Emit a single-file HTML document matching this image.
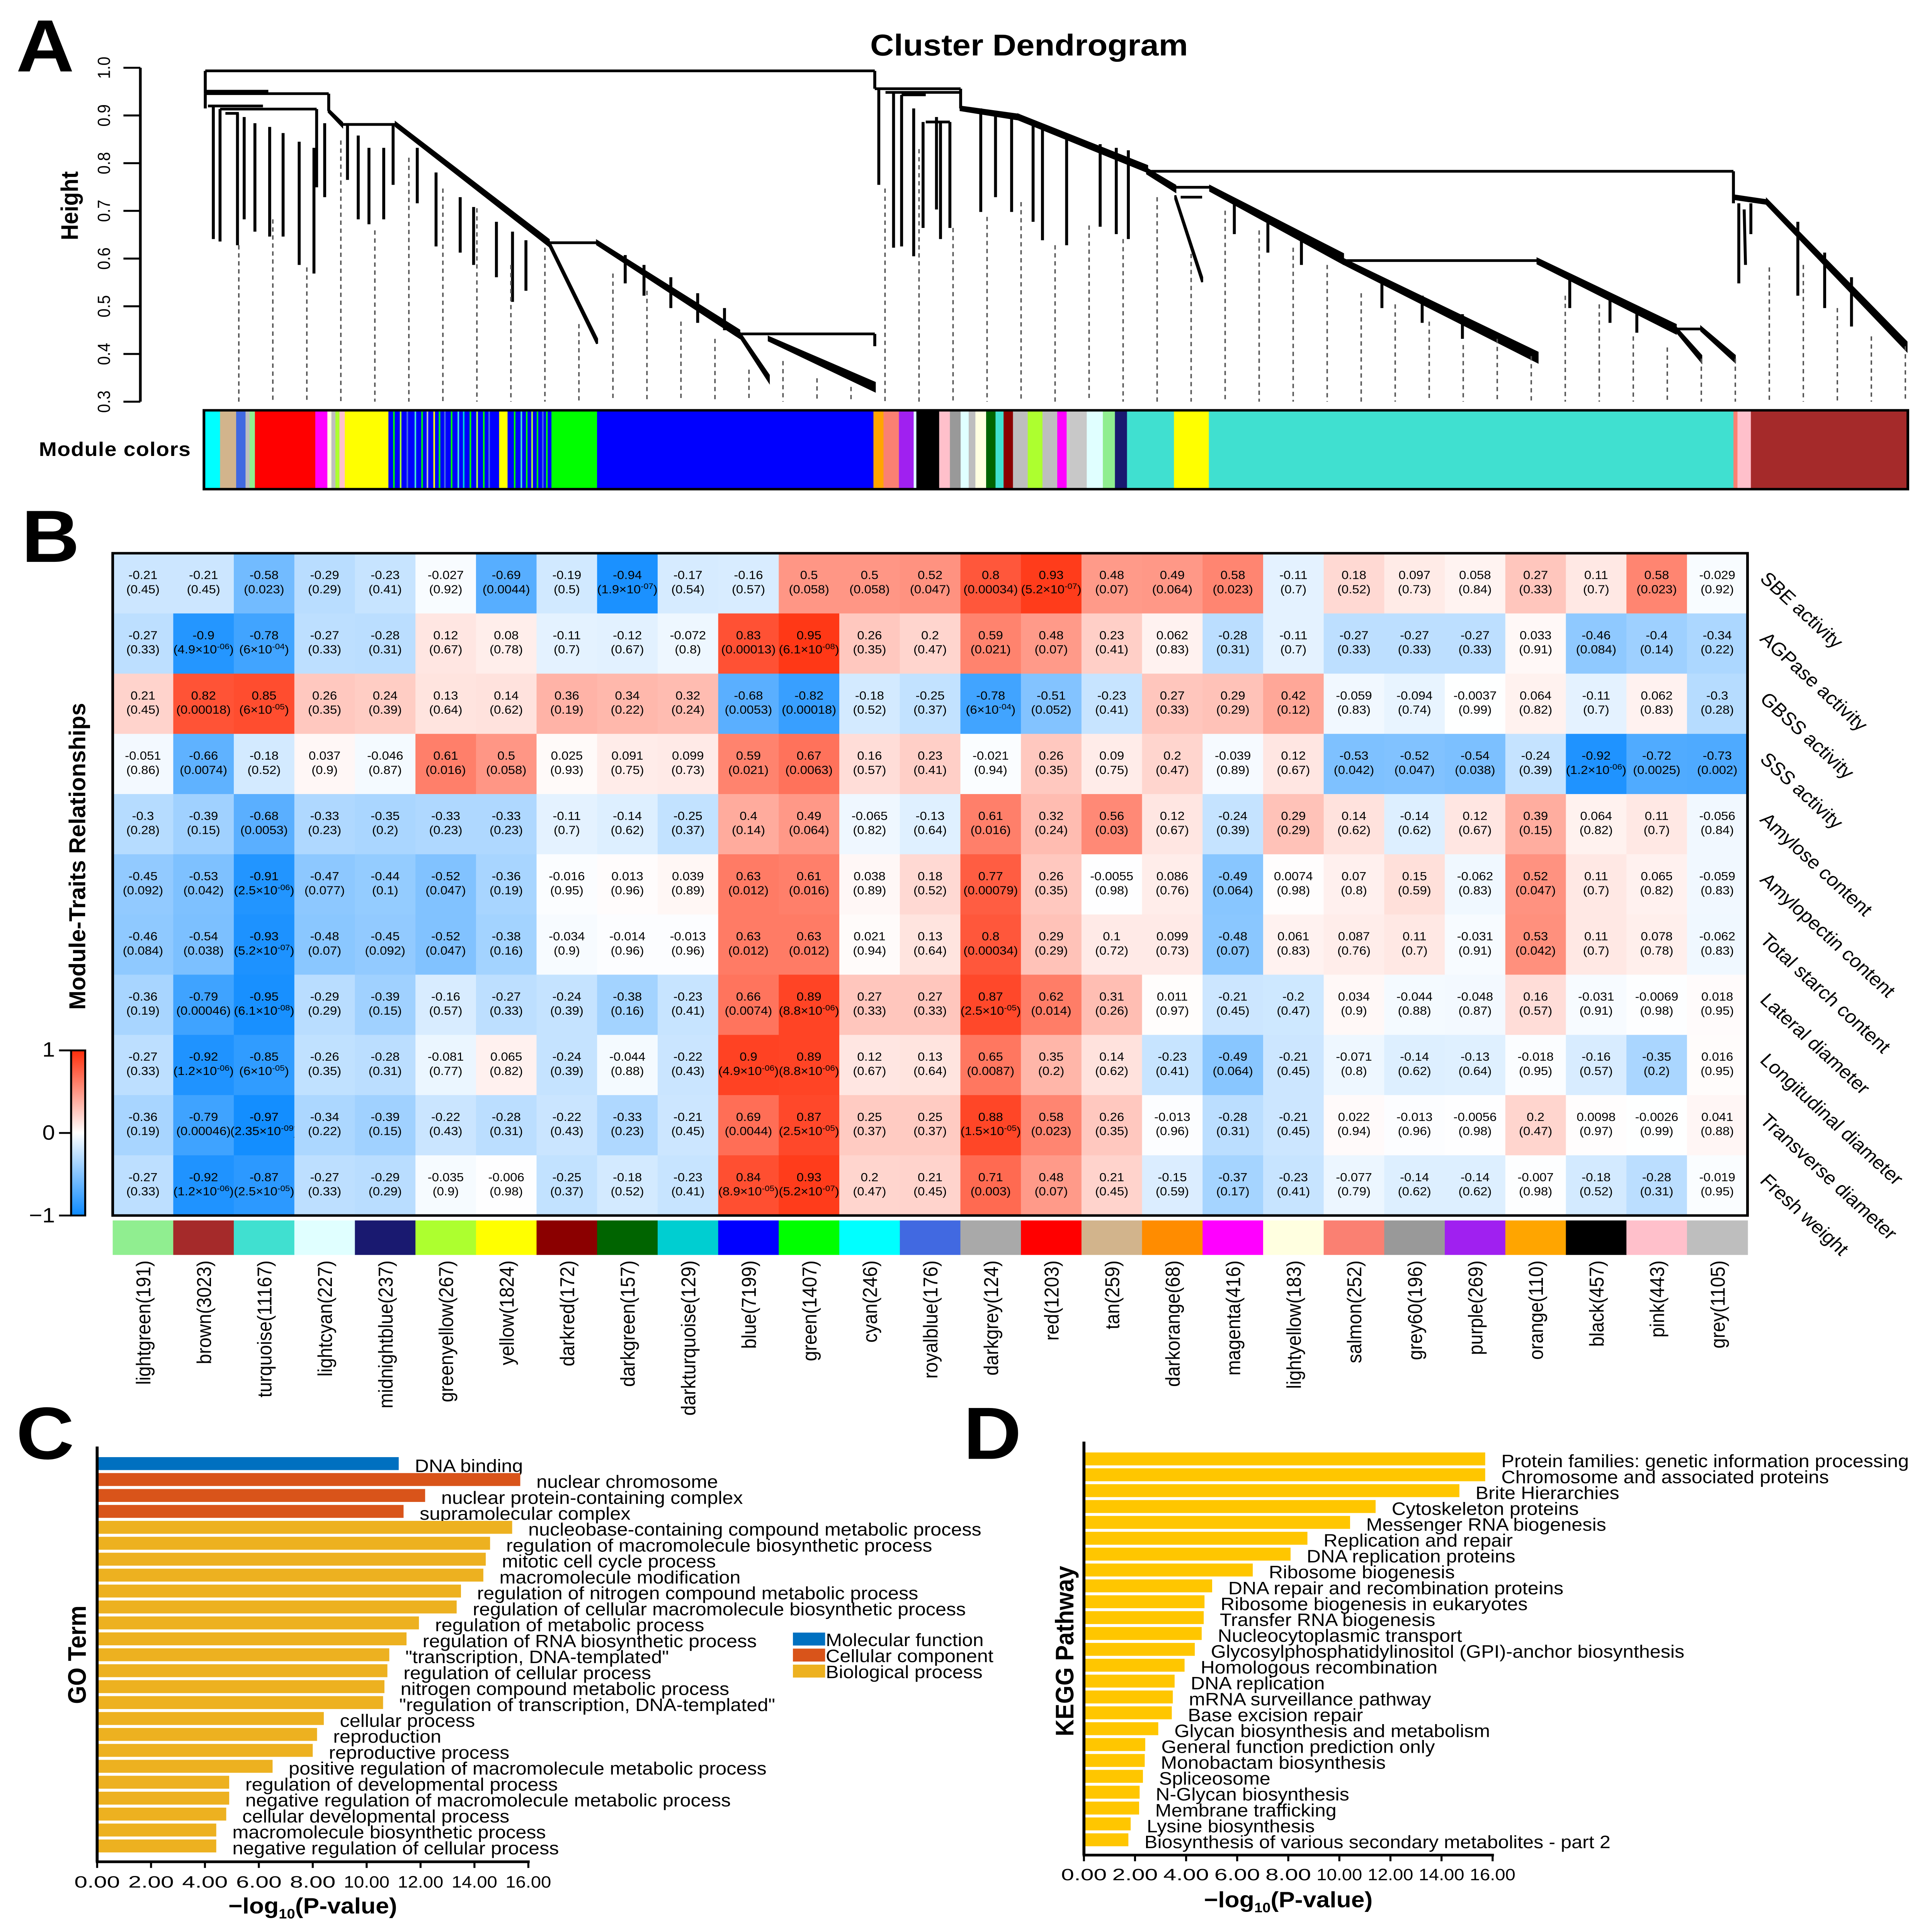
<!DOCTYPE html>
<html><head><meta charset="utf-8"><title>WGCNA figure</title>
<style>
html,body{margin:0;padding:0;background:#fff;width:100%;height:100%;overflow:hidden;}
svg{position:absolute;left:0;top:0;width:100vw;height:100vh;display:block;}
text{font-family:"Liberation Sans",Arial,sans-serif;}
</style></head>
<body>
<svg id="fig" xmlns="http://www.w3.org/2000/svg" viewBox="0 0 1440 1568" preserveAspectRatio="none">
<rect x="0" y="0" width="1440" height="1568" fill="#fff"/>
<g id="panelA">
 <text x="12" y="58" font-size="60" font-weight="bold">A</text>
 <text x="767" y="45" font-size="24.5" font-weight="bold" text-anchor="middle">Cluster Dendrogram</text>
 <text transform="translate(58,167) rotate(-90)" font-size="18" font-weight="bold" text-anchor="middle">Height</text>
 <text x="29" y="370" font-size="16" font-weight="bold" textLength="113" lengthAdjust="spacing">Module colors</text>
 <g id="dendro"></g>
 <g id="yaxisA"></g>
 <g id="colorbarA"></g>
</g>
<g id="panelB">
 <text x="16" y="456" font-size="60" font-weight="bold">B</text>
 <text transform="translate(63.5,695) rotate(-90)" font-size="17" font-weight="bold" text-anchor="middle" textLength="249" lengthAdjust="spacingAndGlyphs">Module-Traits Relationships</text>
 <g id="heat"></g>
 <g id="legendB"></g>
</g>
<g id="panelC">
 <text x="12" y="1184" font-size="60" font-weight="bold">C</text>
 <text transform="translate(64,1343) rotate(-90)" font-size="19" font-weight="bold" text-anchor="middle">GO Term</text>
</g>
<g id="panelD">
 <text x="718" y="1184" font-size="60" font-weight="bold">D</text>
 <text transform="translate(800,1340) rotate(-90)" font-size="19" font-weight="bold" text-anchor="middle">KEGG Pathway</text>
</g>
</svg>
<script>
// ---------- Heatmap data ----------
const modules=["lightgreen","brown","turquoise","lightcyan","midnightblue","greenyellow","yellow","darkred","darkgreen","darkturquoise","blue","green","cyan","royalblue","darkgrey","red","tan","darkorange","magenta","lightyellow","salmon","grey60","purple","orange","black","pink","grey"];
const moduleSizes=[191,3023,11167,227,237,267,1824,172,157,129,7199,1407,246,176,124,1203,259,68,416,183,252,196,269,110,457,443,1105];
const moduleFill=["#90EE90","#A52A2A","#40E0D0","#E0FFFF","#191970","#ADFF2F","#FFFF00","#8B0000","#006400","#00CED1","#0000FF","#00FF00","#00FFFF","#4169E1","#A9A9A9","#FF0000","#D2B48C","#FF8C00","#FF00FF","#FFFFE0","#FA8072","#999999","#A020F0","#FFA500","#000000","#FFC0CB","#BEBEBE"];
const traits=["SBE activity","AGPase activity","GBSS activity","SSS activity","Amylose content","Amylopectin content","Total starch content","Lateral diameter","Longitudinal diameter","Transverse diameter","Fresh weight"];
const corrSBE=[-0.21,-0.21,-0.58,-0.29,-0.23,-0.027,-0.69,-0.19,-0.94,-0.17,-0.16,0.5,0.5,0.52,0.8,0.93,0.48,0.49,0.58,-0.11,0.18,0.097,0.058,0.27,0.11,0.58,-0.029];
const pSBE=["0.45","0.45","0.023","0.29","0.41","0.92","0.0044","0.5","1.9e-07","0.54","0.57","0.058","0.058","0.047","0.00034","5.2e-07","0.07","0.064","0.023","0.7","0.52","0.73","0.84","0.33","0.7","0.023","0.92"];
const corrAGP=[-0.27,-0.9,-0.78,-0.27,-0.28,0.12,0.08,-0.11,-0.12,-0.072,0.83,0.95,0.26,0.2,0.59,0.48,0.23,0.062,-0.28,-0.11,-0.27,-0.27,-0.27,0.033,-0.46,-0.4,-0.34];
const pAGP=["0.33","4.9e-06","6e-04","0.33","0.31","0.67","0.78","0.7","0.67","0.8","0.00013","6.1e-08","0.35","0.47","0.021","0.07","0.41","0.83","0.31","0.7","0.33","0.33","0.33","0.91","0.084","0.14","0.22"];
const corrGBSS=[0.21,0.82,0.85,0.26,0.24,0.13,0.14,0.36,0.34,0.32,-0.68,-0.82,-0.18,-0.25,-0.78,-0.51,-0.23,0.27,0.29,0.42,-0.059,-0.094,-0.0037,0.064,-0.11,0.062,-0.3];
const pGBSS=["0.45","0.00018","6e-05","0.35","0.39","0.64","0.62","0.19","0.22","0.24","0.0053","0.00018","0.52","0.37","6e-04","0.052","0.41","0.33","0.29","0.12","0.83","0.74","0.99","0.82","0.7","0.83","0.28"];
const corrSSS=[-0.051,-0.66,-0.18,0.037,-0.046,0.61,0.5,0.025,0.091,0.099,0.59,0.67,0.16,0.23,-0.021,0.26,0.09,0.2,-0.039,0.12,-0.53,-0.52,-0.54,-0.24,-0.92,-0.72,-0.73];
const pSSS=["0.86","0.0074","0.52","0.9","0.87","0.016","0.058","0.93","0.75","0.73","0.021","0.0063","0.57","0.41","0.94","0.35","0.75","0.47","0.89","0.67","0.042","0.047","0.038","0.39","1.2e-06","0.0025","0.002"];
const corrAmy=[-0.3,-0.39,-0.68,-0.33,-0.35,-0.33,-0.33,-0.11,-0.14,-0.25,0.4,0.49,-0.065,-0.13,0.61,0.32,0.56,0.12,-0.24,0.29,0.14,-0.14,0.12,0.39,0.064,0.11,-0.056];
const pAmy=["0.28","0.15","0.0053","0.23","0.2","0.23","0.23","0.7","0.62","0.37","0.14","0.064","0.82","0.64","0.016","0.24","0.03","0.67","0.39","0.29","0.62","0.62","0.67","0.15","0.82","0.7","0.84"];
const corrAmp=[-0.45,-0.53,-0.91,-0.47,-0.44,-0.52,-0.36,-0.016,0.013,0.039,0.63,0.61,0.038,0.18,0.77,0.26,-0.0055,0.086,-0.49,0.0074,0.07,0.15,-0.062,0.52,0.11,0.065,-0.059];
const pAmp=["0.092","0.042","2.5e-06","0.077","0.1","0.047","0.19","0.95","0.96","0.89","0.012","0.016","0.89","0.52","0.00079","0.35","0.98","0.76","0.064","0.98","0.8","0.59","0.83","0.047","0.7","0.82","0.83"];
const corrTS=[-0.46,-0.54,-0.93,-0.48,-0.45,-0.52,-0.38,-0.034,-0.014,-0.013,0.63,0.63,0.021,0.13,0.8,0.29,0.1,0.099,-0.48,0.061,0.087,0.11,-0.031,0.53,0.11,0.078,-0.062];
const pTS=["0.084","0.038","5.2e-07","0.07","0.092","0.047","0.16","0.9","0.96","0.96","0.012","0.012","0.94","0.64","0.00034","0.29","0.72","0.73","0.07","0.83","0.76","0.7","0.91","0.042","0.7","0.78","0.83"];
const corrLat=[-0.36,-0.79,-0.95,-0.29,-0.39,-0.16,-0.27,-0.24,-0.38,-0.23,0.66,0.89,0.27,0.27,0.87,0.62,0.31,0.011,-0.21,-0.2,0.034,-0.044,-0.048,0.16,-0.031,-0.0069,0.018];
const pLat=["0.19","0.00046","6.1e-08","0.29","0.15","0.57","0.33","0.39","0.16","0.41","0.0074","8.8e-06","0.33","0.33","2.5e-05","0.014","0.26","0.97","0.45","0.47","0.9","0.88","0.87","0.57","0.91","0.98","0.95"];
const corrLon=[-0.27,-0.92,-0.85,-0.26,-0.28,-0.081,0.065,-0.24,-0.044,-0.22,0.9,0.89,0.12,0.13,0.65,0.35,0.14,-0.23,-0.49,-0.21,-0.071,-0.14,-0.13,-0.018,-0.16,-0.35,0.016];
const pLon=["0.33","1.2e-06","6e-05","0.35","0.31","0.77","0.82","0.39","0.88","0.43","4.9e-06","8.8e-06","0.67","0.64","0.0087","0.2","0.62","0.41","0.064","0.45","0.8","0.62","0.64","0.95","0.57","0.2","0.95"];
const corrTra=[-0.36,-0.79,-0.97,-0.34,-0.39,-0.22,-0.28,-0.22,-0.33,-0.21,0.69,0.87,0.25,0.25,0.88,0.58,0.26,-0.013,-0.28,-0.21,0.022,-0.013,-0.0056,0.2,0.0098,-0.0026,0.041];
const pTra=["0.19","0.00046","2.35e-09","0.22","0.15","0.43","0.31","0.43","0.23","0.45","0.0044","2.5e-05","0.37","0.37","1.5e-05","0.023","0.35","0.96","0.31","0.45","0.94","0.96","0.98","0.47","0.97","0.99","0.88"];
const corrFW=[-0.27,-0.92,-0.87,-0.27,-0.29,-0.035,-0.006,-0.25,-0.18,-0.23,0.84,0.93,0.2,0.21,0.71,0.48,0.21,-0.15,-0.37,-0.23,-0.077,-0.14,-0.14,-0.007,-0.18,-0.28,-0.019];
const pFW=["0.33","1.2e-06","2.5e-05","0.33","0.29","0.9","0.98","0.37","0.52","0.41","8.9e-05","5.2e-07","0.47","0.45","0.003","0.07","0.45","0.59","0.17","0.41","0.79","0.62","0.62","0.98","0.52","0.31","0.95"];
const corrRows=[corrSBE,corrAGP,corrGBSS,corrSSS,corrAmy,corrAmp,corrTS,corrLat,corrLon,corrTra,corrFW];
const pRows=[pSBE,pAGP,pGBSS,pSSS,pAmy,pAmp,pTS,pLat,pLon,pTra,pFW];
// ---------- GO data ----------
const goTerms=["DNA binding","nuclear chromosome","nuclear protein-containing complex","supramolecular complex","nucleobase-containing compound metabolic process","regulation of macromolecule biosynthetic process","mitotic cell cycle process","macromolecule modification","regulation of nitrogen compound metabolic process","regulation of cellular macromolecule biosynthetic process","regulation of metabolic process","regulation of RNA biosynthetic process","\"transcription, DNA-templated\"","regulation of cellular process","nitrogen compound metabolic process","\"regulation of transcription, DNA-templated\"","cellular process","reproduction","reproductive process","positive regulation of macromolecule metabolic process","regulation of developmental process","negative regulation of macromolecule metabolic process","cellular developmental process","macromolecule biosynthetic process","negative regulation of cellular process"];
const goValues=[11.19,15.7,12.17,11.37,15.4,14.58,14.42,14.33,13.5,13.34,11.94,11.48,10.84,10.77,10.66,10.61,8.41,8.16,8.0,6.51,4.9,4.9,4.79,4.42,4.42];
const goCategory=["MF","CC","CC","CC","BP","BP","BP","BP","BP","BP","BP","BP","BP","BP","BP","BP","BP","BP","BP","BP","BP","BP","BP","BP","BP"];
const goLegendLabels=["Molecular function","Cellular component","Biological process"];
// ---------- KEGG data ----------
const keggTerms=["Protein families: genetic information processing","Chromosome and associated proteins","Brite Hierarchies","Cytoskeleton proteins","Messenger RNA biogenesis","Replication and repair","DNA replication proteins","Ribosome biogenesis","DNA repair and recombination proteins","Ribosome biogenesis in eukaryotes","Transfer RNA biogenesis","Nucleocytoplasmic transport","Glycosylphosphatidylinositol (GPI)-anchor biosynthesis","Homologous recombination","DNA replication","mRNA surveillance pathway","Base excision repair","Glycan biosynthesis and metabolism","General function prediction only","Monobactam biosynthesis","Spliceosome","N-Glycan biosynthesis","Membrane trafficking","Lysine biosynthesis","Biosynthesis of various secondary metabolites - part 2"];
const keggValues=[15.71,15.71,14.7,11.42,10.42,8.75,8.09,6.61,5.02,4.72,4.69,4.61,4.34,3.94,3.55,3.48,3.44,2.91,2.40,2.38,2.31,2.18,2.16,1.83,1.74];
const xTickValues=[0,2,4,6,8,10,12,14,16];
const heightTicks=[1.0,0.9,0.8,0.7,0.6,0.5,0.4,0.3];

const NS="http://www.w3.org/2000/svg";
function mk(parent,tag,attrs,txt){const e=document.createElementNS(NS,tag);for(const k in attrs)e.setAttribute(k,attrs[k]);if(txt!==undefined)e.textContent=txt;parent.appendChild(e);return e;}

// ---------- Panel A ----------
const yH=h=>55+(1-h)*(271/0.7);
const ax=document.getElementById('yaxisA');
let e=mk(ax,'line',{x1:104.6,y1:yH(1),x2:104.6,y2:yH(0.3),stroke:'#000','stroke-width':2});


heightTicks.forEach(h=>{
 let t=mk(ax,'line',{x1:92,y1:yH(h),x2:104.6,y2:yH(h),stroke:'#000','stroke-width':1.6});
 
 
 let l=mk(ax,'text',{transform:`translate(82,${yH(h)}) rotate(-90)`,'font-size':13,'text-anchor':'middle'},h.toFixed(1));
 
 
});
const dg=document.getElementById('dendro');
const dLines=[[153,57.5,652,57.5],[153,57.5,153,76],[652,57.5,652,72],
[153,74,200,74],[153,76,245,76],[153,76,153,88],[155,86,196,86],[164,88.5,236,88.5],[159,86,159,194],[164,88.5,164,196],[177,92,177,199],[168,92,178,92],[182,95,182,178],[190,100,190,188],[201,103,201,192],[211,108,211,192],[223,115,223,215],[234,120,234,222],[236,88.5,236,152],[242,100,242,160],[245,76,245,90],
[255,101,295,101],[259,101,259,146],[267,110,267,178],[275,120,275,182],[286,120,286,178],[293,101,293,150],
[409,197,445,197],[551,271,652,271],[652,271,652,281],
[311,120,311,165],[325,140,325,200],[343,160,343,205],[353,168,353,215],[370,180,370,225],[382,188,382,245],[392,195,392,236],
[466,207,466,230],[480,215,480,240],[500,225,500,250],[520,238,520,262],[540,250,540,268],
[652,72,716,72],[655,72,655,150],[660,75,716,75],[666,75,666,201],[672,77,690,77],[672,77,672,200],[681,88,681,208],[690,99,708,99],[688,99,688,185],[698,95,698,170],[701,99,701,194],[708,99,708,185],[716,72,716,88],
[731,88,731,172],[742,90,742,160],[754,92,754,172],[770,98,770,180],[777,102,777,195],[795,109,795,199],[820,117,820,184],[832,120,832,190],[841,122,841,194],
[855,139,1292,139],[1292,139,1292,165],[876,152,902,152],[1001,211.5,1146,211.5],[1249,267,1268,267],[880,160,896,160],
[1296,165,1296,230],[1300,170,1301,215],[1305,165,1305,190],[1340,180,1340,240],[1360,205,1360,250],[1380,225,1380,265],
[920,165,920,190],[945,178,945,205],[970,190,970,215],[1030,225,1030,250],[1060,240,1060,262],[1090,255,1090,275],[1170,225,1170,250],[1200,240,1200,262],[1220,250,1220,270]];
dLines.forEach(l=>{
 let s=mk(dg,'line',{x1:l[0],y1:l[1],x2:l[2],y2:l[3],stroke:'#000','stroke-width':2.2});
 
 
});
const wedges=[[716,88,759,95,3,4],[759,95,855,137,4,5],[245,90,255,101,2,3],[295,101,409,197,3,5],[409,197,445,277,3,4],[445,197,551,271,3,6],[551,271,573,307,3,5],[573,275,652,314,3,7],
[855,139,876,153,4,5],[902,153,1001,210,4,8],[1001,212,1146,290,4,8],[1146,212,1249,267,4,7],[1268,267,1293,291,3,5],[1249,267,1268,291,3,5],[876,160,896,227,3,4],[1292,160,1317,164,3,3],[1317,164,1421,281,4,7]];
wedges.forEach(w=>{
 const [x1,y1,x2,y2,a,b]=w;
 let p=mk(dg,'polygon',{points:`${x1},${y1-a/2} ${x2},${y2-b/2} ${x2},${y2+b/2} ${x1},${y1+a/2}`,fill:'#000',stroke:'#000','stroke-width':1.5});
 
 
});
const dashStarts=[199,178,217,114,187,128,153,169,215,201,263,222,236,261,275,300,293,307,314,153,121,185,176,164,199,183,194,160,206,171,187,201,215,238,247,261,280,275,289,240,247,273,282,291,291,217,215,250,273,281];
dashStarts.forEach((y,i)=>{
 const x=178+i*25.35;
 let d=mk(dg,'line',{x1:x,y1:y,x2:x,y2:326,stroke:'#555','stroke-width':1.1,'stroke-dasharray':'3.5,3'});
 
 
});
const segs=[[152,153,"#00FFFF"],[153,164,"#00FFFF"],[164,176,"#D2B48C"],[176,183,"#4169E1"],[183,186,"#BEBEBE"],[186,190,"#90EE90"],[190,235,"#FF0000"],[235,244,"#FF00FF"],[244,247,"#FFFFE0"],[247,250,"#BEBEBE"],[250,253,"#ADFF2F"],[253,257,"#FFC0CB"],[257,289.5,"#FFFF00"],[289.5,411,"#0000FF"],[372,378,"#FFFF00"],[411,445,"#00FF00"],[445,651,"#0000FF"],[651,658.5,"#FFA500"],[658.5,670,"#FA8072"],[670,681,"#A020F0"],[681,683,"#E0FFFF"],[683,700,"#000000"],[700,708,"#FFC0CB"],[708,716,"#999999"],[716,726,"#E0FFFF"],[722,727,"#BEBEBE"],[727,735,"#FFFFE0"],[735,742,"#006400"],[742,748,"#40E0D0"],[748,755,"#8B0000"],[755,766,"#BEBEBE"],[766,777,"#ADFF2F"],[777,788,"#BEBEBE"],[788,795,"#FF00FF"],[795,810,"#C8C8C8"],[810,822,"#E0FFFF"],[822,831,"#90EE90"],[831,840,"#191970"],[840,875,"#40E0D0"],[875,901,"#FFFF00"],[901,1292,"#40E0D0"],[1292,1295,"#FA8072"],[1295,1305,"#FFC0CB"],[1305,1422,"#A52A2A"]];
const cb=document.getElementById('colorbarA');
segs.forEach(s=>{
 let r=mk(cb,'rect',{x:s[0],y:333,width:s[1]-s[0]+0.3,height:64,fill:s[2]});
 
 
});
const stripeX=[293,298,303,309,314,318,323,327,331,336,341,345,350,355,360,364,383,388,392,396,400,404,407];
const stripeC=["#00FF00","#ADFF2F","#4169E1","#40E0D0","#00FF00","#BEBEBE","#FFFF00","#00FF00","#4169E1","#00FF00","#40E0D0","#00CED1","#00FF00","#ADFF2F","#00FF00","#4169E1","#00FF00","#40E0D0","#00FF00","#ADFF2F","#00FF00","#4169E1","#00FF00"];
stripeX.forEach((x,i)=>{
 let r=mk(cb,'rect',{x:x,y:333,width:1.2,height:64,fill:stripeC[i]});
 
 
});
e=mk(cb,'rect',{x:152,y:333,width:1270,height:64,fill:'none',stroke:'#000','stroke-width':2});



// ---------- Panel B heatmap ----------
const hx0=84,hy0=449,hx1=1302.5,hy1=986.5;
const cw=(hx1-hx0)/modules.length, ch=(hy1-hy0)/traits.length;
const xCol=i=>hx0+i*cw, yRow=j=>hy0+j*ch;
function corrColor(v){
 if(v>=0){return `rgb(255,${Math.round(255-v*(255-45))},${Math.round(255-v*(255-10))})`;}
 const a=-v;return `rgb(${Math.round(255-a*(255-12))},${Math.round(255-a*(255-138))},255)`;
}
const hg=document.getElementById('heat');
corrRows.forEach((row,j)=>{
 row.forEach((v,i)=>{
  let r=mk(hg,'rect',{x:xCol(i),y:yRow(j),width:cw+0.4,height:ch+0.4,fill:corrColor(v)});
  
  
  const cx=xCol(i)+cw/2;
  let t=mk(hg,'text',{x:cx,y:yRow(j)+21,'font-size':9.5,'text-anchor':'middle'},String(v));
  
  
  const ps=pRows[j][i];
  let t2=mk(hg,'text',{x:cx,y:yRow(j)+32.5,'font-size':9.5,'text-anchor':'middle'});
  
  
  if(ps.indexOf('e')>=0){
   const [m,ex]=ps.split('e');
   const s1=document.createElementNS(NS,'tspan');s1.textContent='('+m+'×10';t2.appendChild(s1);
   const s2=document.createElementNS(NS,'tspan');s2.setAttribute('font-size','6.5');s2.setAttribute('dy','-3.5');s2.textContent=ex;t2.appendChild(s2);
   const s3=document.createElementNS(NS,'tspan');s3.setAttribute('dy','3.5');s3.textContent=')';t2.appendChild(s3);
  } else { t2.textContent='('+ps+')'; }
 });
});
e=mk(hg,'rect',{x:hx0,y:hy0,width:hx1-hx0,height:hy1-hy0,fill:'none',stroke:'#000','stroke-width':2});


traits.forEach((tr,j)=>{
 let t=mk(hg,'text',{transform:`translate(1311,${yRow(j)+ch/2-3}) rotate(45)`,'font-size':15},tr);
 
 
});
modules.forEach((m,i)=>{
 let r=mk(hg,'rect',{x:xCol(i),y:990.5,width:cw+0.3,height:28,fill:moduleFill[i]});
 
 
 let t=mk(hg,'text',{transform:`translate(${xCol(i)+cw/2+5.5},1023) rotate(-90)`,'font-size':15,'text-anchor':'end'},`${m}(${moduleSizes[i]})`);
 
 
});
const lg=document.getElementById('legendB');
const defs=mk(document.getElementById('fig'),'defs',{});
const grad=mk(defs,'linearGradient',{id:'cgrad',x1:0,y1:0,x2:0,y2:1});
[[0,1],[0.5,0],[1,-1]].forEach(s=>{mk(grad,'stop',{offset:s[0],'stop-color':corrColor(s[1])});});
e=mk(lg,'rect',{x:53,y:852.5,width:10.5,height:134,fill:'url(#cgrad)',stroke:'#000','stroke-width':1.5});


[[1,'1',857.5],[0,'0',925],[-1,'−1',992]].forEach(s=>{
 const yy=852.5+(1-s[0])/2*134;
 let tk=mk(lg,'line',{x1:44,y1:yy,x2:53,y2:yy,stroke:'#000','stroke-width':1.5});
 
 
 let tl=mk(lg,'text',{x:41,y:s[2],'font-size':17,'text-anchor':'end'},s[1]);
 
 
});

// ---------- bar chart helper ----------
function barChart(gid,terms,vals,colorFn,x0,x16,yTop,yAxis,firstBarTop,pitch,barH,tickY,titleY,prefix){
 const g=document.getElementById(gid);
 const xs=v=>x0+v*(x16-x0)/16;
 terms.forEach((t,i)=>{
  const yb=firstBarTop+i*pitch;
  let r=mk(g,'rect',{x:xs(0),y:yb,width:xs(vals[i])-xs(0),height:barH,fill:colorFn(i)});
  
  
  let l=mk(g,'text',{x:xs(vals[i])+12,y:yb+barH+1.5,'font-size':14.5},t);
  
  
 });
 let a1=mk(g,'line',{x1:x0,y1:yTop,x2:x0,y2:yAxis,stroke:'#000','stroke-width':2.2});
 
 
 let a2=mk(g,'line',{x1:x0-1,y1:yAxis,x2:x16+1,y2:yAxis,stroke:'#000','stroke-width':2.2});
 
 
 xTickValues.forEach(v=>{
  let tk=mk(g,'line',{x1:xs(v),y1:yAxis,x2:xs(v),y2:yAxis+5,stroke:'#000','stroke-width':1.5});
  
  
  let tl=mk(g,'text',{x:xs(v),y:tickY,'font-size':13.5,'text-anchor':'middle',textLength:34,lengthAdjust:'spacingAndGlyphs'},v.toFixed(2));
  
  
 });
 let tt=mk(g,'text',{x:(x0+x16)/2,y:titleY,'font-size':18,'font-weight':'bold','text-anchor':'middle'});
 
 
 const p1=document.createElementNS(NS,'tspan');p1.textContent='−log';tt.appendChild(p1);
 const p2=document.createElementNS(NS,'tspan');p2.setAttribute('font-size','11');p2.setAttribute('dy','4');p2.textContent='10';tt.appendChild(p2);
 const p3=document.createElementNS(NS,'tspan');p3.setAttribute('dy','-4');p3.textContent='(P-value)';tt.appendChild(p3);
}
const catColor={MF:'#0070C0',CC:'#D9541A',BP:'#EDB120'};
barChart('panelC',goTerms,goValues,i=>catColor[goCategory[i]],72.4,393.8,1174,1511,1182.6,12.93,10.5,1532,1553,'go');
barChart('panelD',keggTerms,keggValues,i=>'#FFC600',807.9,1112.5,1170,1505.6,1178.8,12.88,10.5,1526,1548,'kegg');
const gc=document.getElementById('panelC');
["MF","CC","BP"].forEach((c,i)=>{
 let r=mk(gc,'rect',{x:591,y:1325+i*13,width:24,height:10.5,fill:catColor[c]});
 
 
 let t=mk(gc,'text',{x:615.5,y:1336+i*13,'font-size':14.5},goLegendLabels[i]);
 
 
});
</script>
</body></html>
